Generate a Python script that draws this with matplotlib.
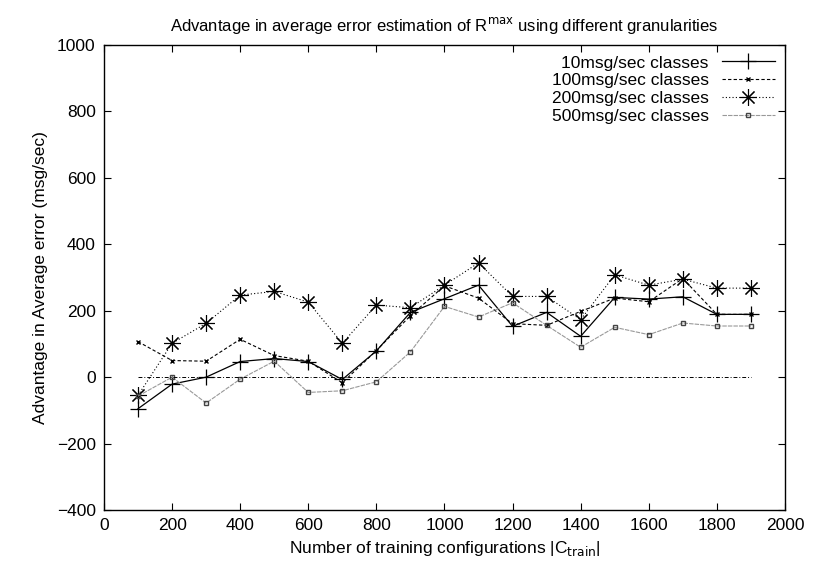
import matplotlib
matplotlib.use('Agg')
import matplotlib.pyplot as plt

plt.rcParams['font.family'] = ['Liberation Sans', 'DejaVu Sans']

x = [100, 200, 300, 400, 500, 600, 700, 800, 900, 1000,
     1100, 1200, 1300, 1400, 1500, 1600, 1700, 1800, 1900]

cls10 = [-95, -21, 0, 47, 56, 47, -7, 79, 195, 236,
         277, 153, 195, 123, 240, 235, 242, 189, 189]
cls100 = [107, 50, 48, 114, 65, 48, -17, 80, 185, 275,
          238, 161, 156, 198, 238, 227, 297, 189, 189]
cls200 = [-55, 102, 162, 247, 258, 226, 102, 217, 209, 277,
          344, 243, 243, 173, 308, 277, 295, 268, 268]
cls500 = [-57, 0, -78, -6, 48, -46, -41, -14, 76, 213,
          181, 224, 156, 90, 150, 128, 163, 154, 154]

labels = ['10msg/sec classes', '100msg/sec classes',
          '200msg/sec classes', '500msg/sec classes']

fig = plt.figure(figsize=(8.18, 5.71), dpi=100)
ax = fig.add_axes([0.1271, 0.1068, 0.8325, 0.8144])

ax.plot(x, cls10, color='black', lw=0.9, marker='+', ms=11, mew=0.9, label=labels[0])
ax.plot(x, cls100, color='black', lw=0.8, ls=(0, (3, 2)), marker='x', ms=3.5, mew=1.0, label=labels[1])
ax.plot(x, cls200, color='black', lw=0.8, ls=(0, (1, 2)), marker=(8, 2, 0), ms=12, mew=0.8, label=labels[2])
ax.plot(x, cls500, color='#999999', lw=0.8, ls=(0, (4, 1)), marker='s', ms=3.5, mew=1.0,
        mfc='none', mec='#444444', label=labels[3])
ax.plot([x[0], x[-1]], [0, 0], color='black', lw=0.7, ls=(0, (4, 2, 1, 2)))

ax.set_xlim(0, 2000)
ax.set_ylim(-400, 1000)
ax.set_xticks(range(0, 2001, 200))
ax.set_yticks(range(-400, 1001, 200))
ax.tick_params(direction='in', top=True, right=True, labelsize=12.5, length=5, pad=6)
for s in ax.spines.values():
    s.set_linewidth(1.0)

ax.set_xlabel(r'Number of training configurations |C$_{\mathrm{train}}$|', fontsize=12.5, labelpad=4)
ax.set_ylabel('Advantage in Average error (msg/sec)', fontsize=12.5, labelpad=6)
ax.set_title(r'Advantage in average error estimation of R$^{\mathrm{max}}$ using different granularities',
             fontsize=12, pad=10)

ax.legend(loc='upper right', frameon=False, markerfirst=False, fontsize=12.5,
          handlelength=3.0, labelspacing=0.15, borderaxespad=0.2, handletextpad=0.8)

fig.savefig('out.png', dpi=100)
